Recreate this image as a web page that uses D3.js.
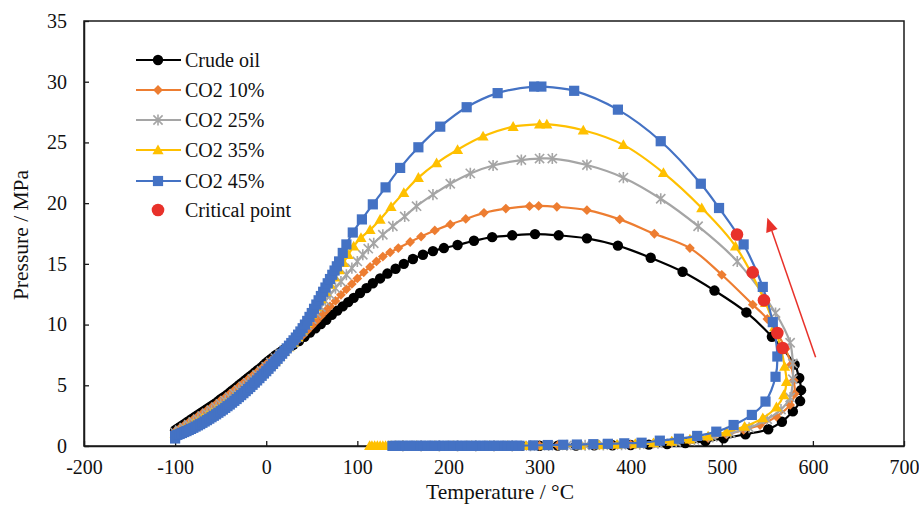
<!DOCTYPE html>
<html><head><meta charset="utf-8">
<script src="https://cdn.jsdelivr.net/npm/d3@7"></script>
<style>
body{margin:0;background:#fff}
svg{display:block}
text{fill:#111}
</style>
</head><body>
<svg id="chart" width="919" height="506"></svg>
<script>
// ---------- data ----------
const xTicks = [-200,-100,0,100,200,300,400,500,600,700];
const yTicks = [0,5,10,15,20,25,30,35];
const seriesNames = ["Crude oil","CO2 10%","CO2 25%","CO2 35%","CO2 45%"];
const seriesColors = ["#000000","#ED7D31","#A5A5A5","#FFC000","#4472C4"];
const seriesMarkers = ["circle","diamond","star","triangle","square"];
const xTitle = "Temperature / °C";
const yTitle = "Pressure / MPa";
const criticalLabel = "Critical point";

// [temperature °C, pressure MPa]
const crudeOil = [
[-100,1.30],[-97.5,1.42],[-95,1.55],[-92.5,1.68],[-90,1.8],[-87.5,1.93],[-85,2.05],[-82.5,2.18],[-80,2.3],[-77.5,2.43],
[-75,2.55],[-72.5,2.68],[-70,2.8],[-67.5,2.93],[-65,3.05],[-62.5,3.18],[-60,3.3],[-57.5,3.43],[-55,3.55],[-52.5,3.7],
[-50,3.85],[-47.5,3.98],[-45,4.1],[-42.5,4.25],[-40,4.4],[-37.5,4.55],[-35,4.7],[-32.5,4.85],[-30,5.0],[-27.5,5.15],
[-25,5.3],[-22.5,5.45],[-20,5.6],[-17.5,5.75],[-15,5.9],[-12.5,6.05],[-10,6.2],[-7.5,6.35],[-5,6.5],[-2.5,6.68],
[0,6.85],[2.5,7.0],[5,7.15],[7.5,7.3],[10,7.45],[12.5,7.58],[15,7.7],[17.5,7.83],[20,7.95],[22.5,8.05],
[25,8.15],[27.5,8.25],[30,8.35],[36,8.65],[42,9.0],[48,9.35],
[54,9.7],[60,10.05],[66,10.4],[72,10.8],[78,11.15],[84,11.5],[90,11.85],[96,12.2],[103,12.6],[110,13.0],
[117,13.4],[125,13.8],[133,14.2],[142,14.6],[151,15.0],[161,15.4],[172,15.75],[183,16.05],[195,16.3],[210,16.55],
[228,16.9],[248,17.2],[270,17.35],[295,17.45],[321,17.35],[352,17.1],[386,16.5],[422,15.5],[457,14.35],[492,12.8],
[527,11.0],[555,9.0],[580,6.7],[585,5.6],[587,4.6],[586,3.7],[578,2.85],[566,2.0],[551,1.38],[526,0.97],
[502,0.63],[482,0.4],[460,0.25],[440,0.16],[420,0.11],[400,0.08],[380,0.06],[360,0.05],[340,0.04],[320,0.03],
[300,0.02],[280,0.01],[260,0.01],[240,0.01],[220,0.01],[200,0.01],[180,0.01],[160,0.01]
];
const co2_10 = [
[-100,1.2],[-95,1.45],[-90,1.7],[-85,1.95],[-80,2.2],[-75,2.45],[-70,2.7],[-65,2.95],[-60,3.2],[-55,3.45],
[-50,3.75],[-45,4.0],[-40,4.3],[-35,4.6],[-30,4.9],[-25,5.2],[-20,5.5],[-15,5.8],[-10,6.1],[-5,6.4],
[0,6.75],[5,7.05],[10,7.35],[15,7.65],[20,7.9],[25,8.15],[30,8.4],[35,8.75],[40,9.1],[45,9.5],
[50,9.9],[55,10.3],[60,10.7],[65,11.1],[70,11.5],[76,11.95],[82,12.45],[88,12.9],[94,13.35],[100,13.8],
[107,14.3],[114,14.75],[121,15.2],[128,15.6],[136,15.95],[145,16.3],[158,16.8],[170,17.25],[185,17.75],[202,18.25],
[219,18.7],[239,19.2],[263,19.55],[289,19.75],[299,19.77],[319,19.7],[352,19.42],[388,18.66],[426,17.48],[465,16.3],
[500,14.1],[534,11.64],[550,10.46],[570,8.0],[576,6.7],[579,5.4],[580,4.3],[575,3.38],[560,2.42],[542,1.73],
[524,1.32],[505,0.95],[485,0.65],[465,0.45],[445,0.3],[425,0.2],[400,0.12],[380,0.08],[360,0.06],[340,0.05],
[320,0.04],[300,0.02],[280,0.01],[260,0.01],[240,0.01],[220,0.01],[200,0.01],[180,0.01],[160,0.01]
];
const co2_25 = [
[-100,1.1],[-95,1.3],[-90,1.52],[-85,1.75],[-80,1.98],[-75,2.22],[-70,2.46],[-65,2.7],[-60,2.95],[-55,3.2],
[-50,3.47],[-45,3.74],[-40,4.02],[-35,4.31],[-30,4.6],[-25,4.9],[-20,5.2],[-15,5.52],[-10,5.85],[-5,6.18],
[0,6.52],[5,6.88],[10,7.24],[15,7.58],[20,7.9],[25,8.2],[30,8.5],[35,8.95],[40,9.45],[45,9.95],
[50,10.45],[55,10.95],[60,11.45],[65,11.95],[70,12.45],[76,13.0],[82,13.55],[88,14.1],[94,14.65],[100,15.2],
[106,15.75],[112,16.25],[118,16.7],[128,17.4],[139,18.1],[152,18.9],[165,19.75],[183,20.7],[202,21.6],[224,22.45],
[249,23.1],[280,23.55],[300,23.67],[314,23.67],[352,23.14],[392,22.1],[433,20.36],[474,18.1],[517,15.2],[559,10.95],
[575,8.5],[578,6.8],[578,5.5],[575,4.0],[565,3.0],[550,2.2],[530,1.5],[510,1.05],[490,0.75],[470,0.5],
[450,0.35],[430,0.22],[410,0.15],[390,0.1],[370,0.08],[350,0.06],[330,0.05],[310,0.04],[290,0.02],[270,0.01],
[250,0.01],[230,0.01],[210,0.01],[190,0.01],[170,0.01],[150,0.01]
];
const co2_35 = [
[-100,1.0],[-95,1.18],[-90,1.38],[-85,1.59],[-80,1.8],[-75,2.02],[-70,2.25],[-65,2.48],[-60,2.72],[-55,2.97],
[-50,3.22],[-45,3.48],[-40,3.75],[-35,4.03],[-30,4.32],[-25,4.62],[-20,4.93],[-15,5.25],[-10,5.58],[-5,5.92],
[0,6.27],[5,6.63],[10,7.0],[15,7.38],[20,7.77],[25,8.15],[30,8.55],[35,8.98],[40,9.55],[45,10.15],
[50,10.8],[55,11.45],[60,12.1],[65,12.7],[70,13.3],[75,13.9],[80,14.5],[85,15.1],[90,15.75],[96,16.45],
[104,17.15],[114,17.8],[125,18.66],[137,19.7],[151,20.86],[167,22.1],[187,23.3],[210,24.4],[238,25.5],[271,26.3],
[300,26.5],[308,26.5],[348,26.0],[392,24.8],[436,22.5],[478,19.6],[515,16.45],[548,11.8],[558,9.8],[565,8.0],
[569,6.55],[571,5.3],[568,4.2],[560,3.2],[545,2.3],[525,1.6],[505,1.15],[485,0.8],[465,0.55],[445,0.38],
[425,0.25],[405,0.17],[385,0.12],[365,0.09],[345,0.07],[325,0.05],[305,0.04],[285,0.02],[265,0.01],[245,0.01],
[225,0.01],[205,0.01],[185,0.01],[165,0.01],[150,0.01],[142,0.01],[137,0.01],[134,0.01],[131,0.01],[128,0.01],
[125,0.01],[122,0.01],[119,0.01],[116,0.01],[113.5,0.01]
];
const co2_45 = [
[-100,0.62],[-100,0.85],[-97.5,0.92],[-95,0.99],[-92.5,1.07],[-90,1.15],[-87.5,1.23],[-85,1.32],[-82.5,1.41],[-80,1.5],
[-77.5,1.6],[-75,1.7],[-72.5,1.8],[-70,1.91],[-67.5,2.02],[-65,2.13],[-62.5,2.25],[-60,2.37],[-57.5,2.49],[-55,2.61],
[-52.5,2.74],[-50,2.87],[-47.5,3.0],[-45,3.14],[-42.5,3.28],[-40,3.42],[-37.5,3.57],[-35,3.72],[-32.5,3.87],[-30,4.03],
[-27.5,4.19],[-25,4.35],[-22.5,4.52],[-20,4.69],[-17.5,4.86],[-15,5.04],[-12.5,5.22],[-10,5.4],[-7.5,5.59],[-5,5.78],
[-2.5,5.97],[0,6.16],[2.5,6.36],[5,6.56],[7.5,6.76],[10,6.97],[12.5,7.18],[15,7.39],[17.5,7.6],[20,7.82],
[22.5,8.04],[25,8.26],[27.5,8.48],[30,8.7],[32.5,8.93],[35,9.17],[37.5,9.43],[40,9.7],[42.5,10.0],[45,10.3],
[47.5,10.63],[50,10.95],[52.5,11.3],[55,11.65],[57.5,12.0],[60,12.35],[62.5,12.7],[65,13.05],[67.5,13.4],[70,13.75],
[72.5,14.1],[75,14.45],[77.5,14.8],[80,15.2],[84,15.9],[88,16.6],[95,17.58],
[105,18.66],[117,19.9],[131,21.3],[147,22.9],[167,24.6],[191,26.3],[220,27.9],[254,29.06],[294,29.6],[302,29.6],
[338,29.25],[386,27.7],[433,25.1],[477,21.6],[497,19.6],[524,16.6],[545,13.1],[556,10.2],[561,7.37],[559,5.7],
[548,3.66],[533,2.56],[513,1.73],[494,1.18],[473,0.83],[453,0.6],[432,0.44],[412,0.27],[393,0.22],[375,0.18],
[359,0.15],[341,0.12],[326,0.1],[309,0.08],[293,0.05],[278,0.02],[274,0.01],[270,0.01],[266,0.01],[262,0.01],
[258,0.01],[254,0.01],[250,0.01],[246,0.01],[242,0.01],[238,0.01],[234,0.01],[230,0.01],[226,0.01],[222,0.01],
[218,0.01],[214,0.01],[210,0.01],[206,0.01],[202,0.01],[198,0.01],[194,0.01],[190,0.01],[186,0.01],[182,0.01],
[178,0.01],[174,0.01],[170,0.01],[166,0.01],[162,0.01],[158,0.01],[154,0.01],[150,0.01],[146,0.01],[142,0.01],[138.5,0.01]
];
const criticalPoints = [[566.8,8.07],[561,9.3],[546.3,12.0],[533.9,14.3],[516.7,17.42]];
const arrowStart = [603,7.3];
const arrowEnd = [550,18.8];

const seriesData = [crudeOil, co2_10, co2_25, co2_35, co2_45];

// ---------- font pick (serif if available) ----------
const serifCandidates = ["Liberation Serif","Tinos","Times New Roman","Times","Nimbus Roman","Nimbus Roman No9 L","Noto Serif","DejaVu Serif","FreeSerif"];
const ctx = document.createElement("canvas").getContext("2d");
function fontExists(f){
  const s = "Crude oil 0123 MPa";
  ctx.font = "40px monospace"; const a = ctx.measureText(s).width;
  ctx.font = `40px "${f}", monospace`; const b = ctx.measureText(s).width;
  ctx.font = "40px sans-serif"; const c = ctx.measureText(s).width;
  ctx.font = `40px "${f}", sans-serif`; const d = ctx.measureText(s).width;
  return a !== b || c !== d;
}
const serifFont = serifCandidates.find(fontExists);
const FONT = serifFont ? `"${serifFont}", serif` : `"Liberation Sans", Arial, sans-serif`;
const fs = serifFont ? {tick:20, legend:20, title:21.5} : {tick:18, legend:19, title:19.5};

// ---------- layout ----------
const W = 919, H = 506;
const m = {left:84, top:21, right:15, bottom:60};
const svg = d3.select("#chart").style("font-family", FONT);
const x = d3.scaleLinear().domain([-200,700]).range([m.left, W - m.right]);
const y = d3.scaleLinear().domain([0,35]).range([H - m.bottom, m.top]);

function markerPath(type, r){
  const p = d3.path();
  if(type==="circle"){ p.arc(0,0,r,0,2*Math.PI); }
  else if(type==="diamond"){ p.moveTo(0,-r); p.lineTo(r,0); p.lineTo(0,r); p.lineTo(-r,0); p.closePath(); }
  else if(type==="triangle"){ p.moveTo(0,-r*1.05); p.lineTo(r*1.05,r*0.8); p.lineTo(-r*1.05,r*0.8); p.closePath(); }
  else if(type==="square"){ p.rect(-r,-r,2*r,2*r); }
  else if(type==="star"){ p.moveTo(-r,-r); p.lineTo(r,r); p.moveTo(-r,r); p.lineTo(r,-r); p.moveTo(0,-r*1.2); p.lineTo(0,r*1.2); }
  return p.toString();
}
const markerR = [5.2, 4.9, 4.6, 5.3, 5.1];

// frame
svg.append("rect").attr("x",m.left).attr("y",m.top).attr("width",W-m.left-m.right).attr("height",H-m.top-m.bottom)
  .attr("fill","none").attr("stroke","#1a1a1a").attr("stroke-width",1.5);

// axes (ticks inward)
const fmt = d => String(d);
const xAxis = svg.append("g").attr("transform",`translate(0,${H-m.bottom})`)
  .call(d3.axisBottom(x).tickValues(xTicks).tickFormat(fmt).tickSizeInner(-5).tickSizeOuter(0).tickPadding(14));
const yAxis = svg.append("g").attr("transform",`translate(${m.left},0)`)
  .call(d3.axisLeft(y).tickValues(yTicks).tickFormat(fmt).tickSizeInner(-5).tickSizeOuter(0).tickPadding(17));
[xAxis,yAxis].forEach(a=>{
  a.attr("font-family",FONT);
  a.select(".domain").attr("stroke","#1a1a1a").attr("stroke-width",1.5);
  a.selectAll(".tick line").attr("stroke","#1a1a1a").attr("stroke-width",1.3);
  a.selectAll(".tick text").style("font-size",fs.tick+"px").attr("fill","#111");
});

const plot = svg.append("g");
const line = d3.line().x(d=>x(d[0])).y(d=>y(d[1])).curve(d3.curveCatmullRom.alpha(0.5));

seriesData.forEach((data,i)=>{
  const g = plot.append("g");
  g.append("path").datum(data).attr("d",line).attr("fill","none")
    .attr("stroke",seriesColors[i]).attr("stroke-width",2.2);
  const mk = markerPath(seriesMarkers[i], markerR[i]);
  g.selectAll("path.mk").data(data).enter().append("path").attr("class","mk")
    .attr("d",mk).attr("transform",d=>`translate(${x(d[0])},${y(d[1])})`)
    .attr("fill", seriesMarkers[i]==="star" ? "none" : seriesColors[i])
    .attr("stroke", seriesMarkers[i]==="star" ? seriesColors[i] : "none")
    .attr("stroke-width",1.6);
});

plot.selectAll("circle.crit").data(criticalPoints).enter().append("circle")
  .attr("cx",d=>x(d[0])).attr("cy",d=>y(d[1])).attr("r",6.3).attr("fill","#E8312A");

// arrow
(function(){
  const x1=x(arrowStart[0]), y1=y(arrowStart[1]), x2=x(arrowEnd[0]), y2=y(arrowEnd[1]);
  const ang=Math.atan2(y2-y1,x2-x1), L=14, Wd=6;
  const bx=x2-L*Math.cos(ang), by=y2-L*Math.sin(ang);
  svg.append("line").attr("x1",x1).attr("y1",y1).attr("x2",bx).attr("y2",by)
    .attr("stroke","#E8312A").attr("stroke-width",1.5);
  svg.append("path").attr("d",`M${x2},${y2}L${bx+Wd*Math.sin(ang)},${by-Wd*Math.cos(ang)}L${bx-Wd*Math.sin(ang)},${by+Wd*Math.cos(ang)}Z`)
    .attr("fill","#E8312A");
})();

// titles
svg.append("text").attr("x",500).attr("y",499).attr("text-anchor","middle")
  .style("font-size",fs.title+"px").text(xTitle);
svg.append("text").attr("transform","translate(28,235) rotate(-90)").attr("text-anchor","middle")
  .style("font-size",fs.title+"px").text(yTitle);

// legend
const legRows = [60,90,120,150,181,210];
seriesNames.forEach((n,i)=>{
  const g = svg.append("g").attr("transform",`translate(0,${legRows[i]})`);
  g.append("line").attr("x1",136).attr("x2",181).attr("y1",0).attr("y2",0)
    .attr("stroke",seriesColors[i]).attr("stroke-width",2.2);
  g.append("path").attr("d",markerPath(seriesMarkers[i],markerR[i])).attr("transform","translate(158,0)")
    .attr("fill", seriesMarkers[i]==="star" ? "none" : seriesColors[i])
    .attr("stroke", seriesMarkers[i]==="star" ? seriesColors[i] : "none").attr("stroke-width",1.6);
  g.append("text").attr("x",185).attr("y",7).style("font-size",fs.legend+"px").text(n);
});
{
  const g = svg.append("g").attr("transform",`translate(0,${legRows[5]})`);
  g.append("circle").attr("cx",158).attr("cy",0).attr("r",6.3).attr("fill","#E8312A");
  g.append("text").attr("x",185).attr("y",7).style("font-size",fs.legend+"px").text(criticalLabel);
}
</script>
</body></html>
